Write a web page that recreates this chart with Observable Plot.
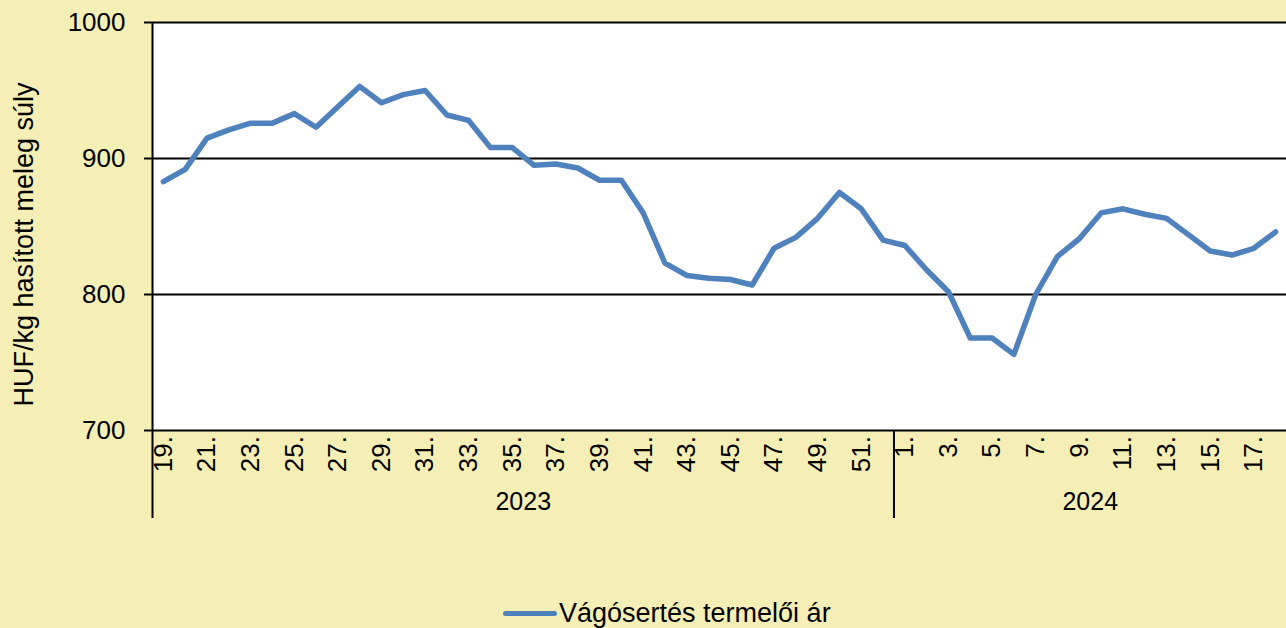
<!DOCTYPE html>
<html>
<head>
<meta charset="utf-8">
<script src="https://cdn.jsdelivr.net/npm/d3@7"></script>
<script src="https://cdn.jsdelivr.net/npm/@observablehq/plot@0.6"></script>
<style>
  html, body { margin: 0; padding: 0; background: #F5EFB5; width: 1286px; height: 628px; overflow: hidden; }
  #wrap { position: relative; width: 1286px; height: 628px; font-family: "Liberation Sans", Arial, sans-serif; }
  #legend { position: absolute; left: 503px; top: 596px; height: 34px; display: flex; align-items: center; font-size: 27px; color: #000; }
  #legend .sw { width: 54px; height: 5px; background: #4F81BD; border-radius: 3px; margin-right: 2px; }
</style>
</head>
<body>
<div id="wrap">
  <div id="chart"></div>
  <div id="legend"><span class="sw"></span><span>Vágósertés termelői ár</span></div>
</div>
<script>
// Categories: week numbers and their years
const weeks = [19,20,21,22,23,24,25,26,27,28,29,30,31,32,33,34,35,36,37,38,39,40,41,42,43,44,45,46,47,48,49,50,51,52,
               1,2,3,4,5,6,7,8,9,10,11,12,13,14,15,16,17,18];
const years = [2023,2023,2023,2023,2023,2023,2023,2023,2023,2023,2023,2023,2023,2023,2023,2023,2023,
               2023,2023,2023,2023,2023,2023,2023,2023,2023,2023,2023,2023,2023,2023,2023,2023,2023,
               2024,2024,2024,2024,2024,2024,2024,2024,2024,2024,2024,2024,2024,2024,2024,2024,2024,2024];
// Series: slaughter pig producer price, HUF/kg
const prices = [883,892,915,921,926,926,933,923,938,953,941,947,950,932,928,908,908,895,896,893,884,884,860,823,814,812,811,807,834,842,856,875,863,840,
                836,818,802,768,768,756,800,828,841,860,863,859,856,844,832,829,834,846];
const yTicks = [700, 800, 900, 1000];
const yTitle = "HUF/kg hasított meleg súly";
const seriesName = "Vágósertés termelői ár";

const data = weeks.map((w, i) => ({i, week: w, year: years[i], price: prices[i], label: w + "."}));
const tickData = data.filter(d => d.week % 2 === 1);
const yearGroups = d3.groups(data, d => d.year).map(([year, rows]) => ({
  year: String(year),
  mid: (rows[0].i + rows[rows.length - 1].i) / 2,
  first: rows[0].i
}));
const separators = yearGroups.slice(1).map(g => g.first - 0.5);
const font = "'Liberation Sans', Arial, sans-serif";

const chart = Plot.plot({
  width: 1286,
  height: 590,
  marginLeft: 152,
  marginRight: 0,
  marginTop: 22,
  marginBottom: 160,
  style: {background: "transparent", fontFamily: font, color: "#000"},
  x: {type: "linear", domain: [-0.5, data.length - 0.5], axis: null},
  y: {domain: [700, 1000], axis: null},
  marks: [
    Plot.frame({fill: "white", stroke: null}),
    Plot.ruleY(yTicks, {stroke: "black", strokeWidth: 2}),
    Plot.axisY({ticks: yTicks, tickSize: 8, tickPadding: 19, fontSize: 26, label: null,
                tickFormat: d => String(d), strokeWidth: 2, stroke: "black"}),
    Plot.ruleX([-0.5], {stroke: "black", strokeWidth: 2, insetBottom: -88}),
    Plot.ruleX(separators, {stroke: "black", strokeWidth: 2, insetTop: 408, insetBottom: -88}),
    Plot.line(data, {x: "i", y: "price", stroke: "#4F81BD", strokeWidth: 5.5,
                     strokeLinejoin: "round", strokeLinecap: "round"}),
    Plot.text(tickData, {x: "i", text: "label", frameAnchor: "bottom", rotate: -90,
                         textAnchor: "end", lineAnchor: "middle", dy: 5.5, fontSize: 26, fill: "black"}),
    Plot.text(yearGroups, {x: "mid", text: "year", frameAnchor: "bottom", dy: 71,
                           lineAnchor: "middle", fontSize: 25, fill: "black"}),
    Plot.text([yTitle], {frameAnchor: "left", rotate: -90, dx: -128, dy: 18,
                         textAnchor: "middle", lineAnchor: "middle", fontSize: 27, fill: "black"})
  ]
});
document.getElementById("chart").appendChild(chart);
</script>
</body>
</html>
